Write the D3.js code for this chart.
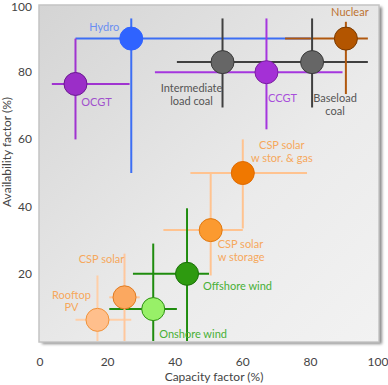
<!DOCTYPE html>
<html lang="en">
<head>
<meta charset="UTF-8" />
<title>Capacity vs availability factor</title>
<script src="https://d3js.org/d3.v7.min.js"></script>
<style>
  body { margin: 0; background: #fff; }
  svg text { font-family: Lato, "Open Sans", sans-serif; }
</style>
</head>
<body>
<script>
// technologies, in drawing order
const techs   = ["Hydro", "OCGT", "Intermediate coal", "Baseload coal", "CCGT", "Nuclear",
                 "CSP gas", "CSP storage", "Offshore wind", "Onshore wind", "CSP solar", "Rooftop PV"];
// capacity factor (%) : centre, low, high
const capMid  = [27,   10.5, 54,   80.5, 67,   90.5, 60,   50.5, 43.5, 33.5, 25,   17];
const capLo   = [10.5, 3.5,  40.5, 65,   34,   72.5, 44.5, 36.5, 27.5, 20.5, 20.5, 10.5];
const capHi   = [80,   26.5, 70,   97,   89.5, 97,   79,   60,   50,   40.5, 29.5, 27];
// availability factor (%) : centre, low, high
const availMid = [90,  76.5, 83,   83,   80,   90,   50,   33,   20,   9.5,  13,   6.3];
const availLo  = [50,  60,   69.5, 69.5, 63,   73.5, 33.5, 19.5, 0,    0,    0,    0];
const availHi  = [96,  90,   96,   96,   96,   95,   60,   50,   39.5, 29,   26,   19.5];
const xTicks = [0, 20, 40, 60, 80, 100];
const yTicks = [20, 40, 60, 80, 100];

// colours per technology
const lineCol = ["#3c6ef4", "#a034d0", "#404040", "#404040", "#a536de", "#b0580e",
                 "#ffc390", "#ffc390", "#1f8c0e", "#1f8c0e", "#ffc79c", "#ffcfa8"];
const fillCol = ["#2f63ff", "#9b2ec8", "#666666", "#666666", "#a430d6", "#b35500",
                 "#f07800", "#fb9a30", "#2e9a10", "#98f068", "#fba860", "#ffbf8c"];
const edgeCol = ["#2f63ff", "#6a1a90", "#3a3a3a", "#3a3a3a", "#7a1fa0", "#7a3a00",
                 "#e06a00", "#e07810", "#1a7008", "#2a9010", "#e07a20", "#f0923a"];

// label text, colour and offset from the marker (px)
const labels = [
  {i: 0,  lines: ["Hydro"], col: "#6a8ff2", dx: -27, dy: -8, a: "middle"},
  {i: 1,  lines: ["OCGT"], col: "#a050cc", dx: 21, dy: 22, a: "middle"},
  {i: 2,  lines: ["Intermediate", "load coal"], col: "#555", dx: -31, dy: 30, a: "middle"},
  {i: 4,  lines: ["CCGT"], col: "#a84edb", dx: 16, dy: 30, a: "middle"},
  {i: 3,  lines: ["Baseload", "coal"], col: "#555", dx: 23, dy: 40, a: "middle"},
  {i: 5,  lines: ["Nuclear"], col: "#bd7230", dx: 4, dy: -23, a: "middle"},
  {i: 6,  lines: ["CSP solar", "w stor. & gas"], col: "#f6a85c", dx: 39, dy: -24, a: "middle"},
  {i: 7,  lines: ["CSP solar", "w storage"], col: "#f6a85c", dx: 7, dy: 18, a: "start"},
  {i: 8,  lines: ["Offshore wind"], col: "#48b036", dx: 16, dy: 16, a: "start"},
  {i: 9,  lines: ["Onshore wind"], col: "#48b036", dx: 6, dy: 29, a: "start"},
  {i: 10, lines: ["CSP solar"], col: "#f6a85c", dx: -23, dy: -34, a: "middle"},
  {i: 11, lines: ["Rooftop", "PV"], col: "#f6a85c", dx: -26, dy: -21, a: "middle"}
];

const W = 388, H = 385;
const x = d3.scaleLinear().domain([0, 100]).range([40, 378]);
const y = d3.scaleLinear().domain([0, 100]).range([341, 5]);

const svg = d3.select("body").append("svg").attr("width", W).attr("height", H);
const defs = svg.append("defs");
const grad = defs.append("linearGradient").attr("id", "panel")
  .attr("x1", 0).attr("y1", 0).attr("x2", 1).attr("y2", 1);
grad.append("stop").attr("offset", "0%").attr("stop-color", "#d4d4d4");
grad.append("stop").attr("offset", "60%").attr("stop-color", "#ebebeb");
grad.append("stop").attr("offset", "100%").attr("stop-color", "#f2f2f2");
const blur = defs.append("filter").attr("id", "shadow")
  .attr("x", "-5%").attr("y", "-5%").attr("width", "115%").attr("height", "115%");
blur.append("feGaussianBlur").attr("stdDeviation", 1.5);

// panel with shadow
svg.append("rect").attr("x", x(0) + 2).attr("y", y(100) + 2)
  .attr("width", x(100) - x(0) + 2).attr("height", y(0) - y(100) + 1)
  .attr("fill", "#8a8a8a").attr("filter", "url(#shadow)");
svg.append("rect").attr("x", x(0) - 1).attr("y", y(100))
  .attr("width", x(100) - x(0) + 2).attr("height", y(0) - y(100) + 1)
  .attr("fill", "url(#panel)").attr("stroke", "#c4c4c4").attr("stroke-width", 1.5);

// ticks
svg.append("g").selectAll("text").data(xTicks).join("text")
  .attr("x", d => x(d)).attr("y", 366)
  .attr("text-anchor", "middle").attr("font-size", 12).attr("fill", "#444")
  .text(d => d);
svg.append("g").selectAll("text").data(yTicks).join("text")
  .attr("x", 32).attr("y", d => Math.max(y(d) + 4, 11))
  .attr("text-anchor", "end").attr("font-size", 12).attr("fill", "#444")
  .text(d => d);

svg.append("text").attr("x", 214).attr("y", 381).attr("text-anchor", "middle")
  .attr("font-size", 12).attr("fill", "#444").text("Capacity factor (%)");
svg.append("text").attr("transform", "translate(11,152) rotate(-90)")
  .attr("text-anchor", "middle").attr("font-size", 12).attr("fill", "#444")
  .text("Availability factor (%)");

const idx = d3.range(techs.length);

// error bars
const bars = svg.append("g").attr("stroke-width", 2);
bars.selectAll("line.h").data(idx).join("line").attr("class", "h")
  .attr("x1", i => x(capLo[i])).attr("x2", i => x(capHi[i]))
  .attr("y1", i => y(availMid[i])).attr("y2", i => y(availMid[i]))
  .attr("stroke", i => lineCol[i]);
bars.selectAll("line.v").data(idx).join("line").attr("class", "v")
  .attr("x1", i => x(capMid[i])).attr("x2", i => x(capMid[i]))
  .attr("y1", i => y(availLo[i])).attr("y2", i => y(availHi[i]))
  .attr("stroke", i => lineCol[i]);

// markers
svg.append("g").selectAll("circle").data(idx).join("circle")
  .attr("cx", i => x(capMid[i])).attr("cy", i => y(availMid[i])).attr("r", 11.5)
  .attr("fill", i => fillCol[i]).attr("stroke", i => edgeCol[i]).attr("stroke-width", 1);

// labels
const lab = svg.append("g").attr("font-size", 11);
labels.forEach(l => {
  const t = lab.append("text")
    .attr("x", x(capMid[l.i]) + l.dx).attr("y", y(availMid[l.i]) + l.dy)
    .attr("text-anchor", l.a).attr("fill", l.col);
  l.lines.forEach((s, k) => {
    t.append("tspan").attr("x", x(capMid[l.i]) + l.dx).attr("dy", k ? 12.5 : 0).text(s);
  });
});
</script>
</body>
</html>
